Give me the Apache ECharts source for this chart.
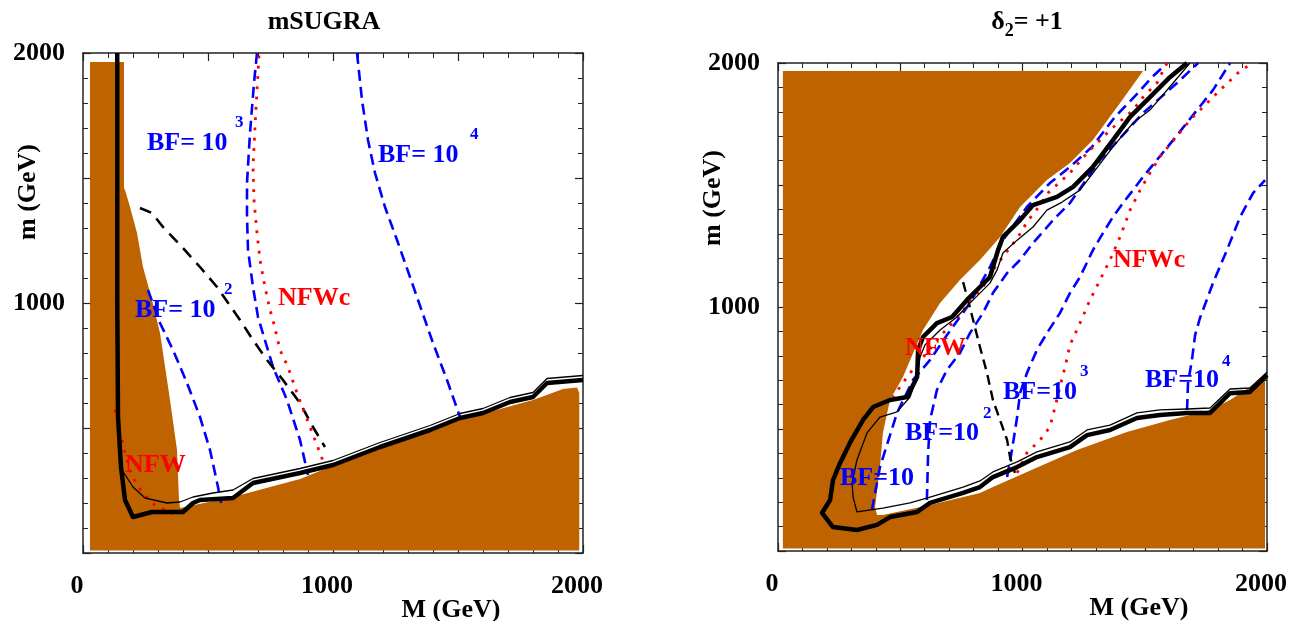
<!DOCTYPE html>
<html><head><meta charset="utf-8">
<script src="https://cdn.jsdelivr.net/npm/echarts@6/dist/echarts.min.js"></script>
<style>html,body{margin:0;padding:0;background:#fff}#c{width:1296px;height:621px}</style>
</head><body><div id="c"></div>
<script>
// ---------- tick labels ----------
const xTickLabels = [0, 1000, 2000];
const yTickLabels = [1000, 2000];

// ---------- left panel (mSUGRA) ----------
const L_brown = [[28,10],[28,1964],[164,1964],[164,1460],[168,1452],[188,1384],[216,1280],[240,1144],[276,1012],[308,880],[348,612],[376,412],[384,212],[388,180],[600,224],[868,296],[1136,404],[1500,530],[1800,612],[1920,656],[1976,662],[1985,640],[1985,10]];
const L_thick = [[137,2000],[137,1012],[140,544],[152,344],[168,212],[200,144],[276,164],[400,164],[440,200],[468,212],[600,220],[680,280],[868,320],[1000,352],[1188,424],[1388,492],[1508,540],[1600,560],[1708,604],[1800,624],[1856,680],[2000,692]];
const L_thin = [[138,1000],[140,544],[156,332],[200,264],[248,220],[336,200],[388,204],[440,224],[520,240],[600,252],[680,298],[868,338],[1000,370],[1188,442],[1388,510],[1508,558],[1600,578],[1708,622],[1800,642],[1856,698],[2000,710]];
const L_nfw = [[128,572],[136,540],[148,472],[160,440],[168,400],[188,332],[216,272],[240,240],[288,192],[320,176],[356,160],[388,144]];
const L_nfwc = [[704,1990],[696,1852],[688,1704],[680,1544],[684,1412],[696,1280],[708,1172],[728,1064],[748,972],[760,932],[788,812],[820,744],[856,640],[908,504],[948,400],[976,324]];
const L_black = [[228,1380],[276,1360],[320,1304],[396,1224],[468,1144],[536,1064],[600,972],[628,932],[680,852],[736,772],[800,692],[868,600],[920,504],[968,424]];
const L_bf2 = [[260,1052],[308,920],[360,812],[416,680],[468,544],[508,412],[540,264],[552,200]];
const L_bf3 = [[696,2000],[684,1880],[668,1680],[656,1480],[656,1344],[660,1212],[680,1064],[700,944],[760,744],[816,612],[868,452],[900,312]];
const L_bf4 = [[1096,2000],[1116,1812],[1140,1652],[1168,1520],[1208,1384],[1256,1252],[1308,1104],[1340,1012],[1400,840],[1456,692],[1508,544]];

// ---------- right panel (delta2 = +1) ----------
const R_brown = [[20,10],[20,1967],[1493,1967],[1399,1836],[1288,1684],[1194,1590],[1100,1520],[990,1410],[908,1287],[826,1193],[744,1111],[663,1016],[593,906],[511,713],[458,619],[429,484],[417,344],[397,180],[405,148],[429,148],[622,189],[826,238],[879,262],[1018,324],[1223,414],[1427,488],[1603,537],[1767,578],[1849,619],[1930,672],[1992,701],[1992,10]];
const R_thick = [[1673,2000],[1603,1942],[1509,1848],[1440,1779],[1370,1684],[1288,1574],[1207,1492],[1141,1451],[1043,1418],[990,1356],[920,1287],[900,1233],[867,1123],[826,1082],[773,1029],[712,959],[650,934],[593,877],[573,824],[569,713],[528,631],[458,619],[389,590],[348,537],[294,443],[254,361],[225,291],[213,209],[180,156],[225,98],[323,86],[405,107],[458,139],[569,160],[622,197],[757,238],[826,262],[879,303],[978,344],[1059,385],[1194,426],[1264,475],[1358,496],[1468,545],[1562,557],[1673,566],[1767,566],[1849,647],[1930,652],[2000,721]];
const R_thin = [[1685,2000],[1616,1918],[1521,1807],[1452,1754],[1370,1656],[1235,1479],[1162,1430],[1100,1397],[1043,1328],[978,1274],[920,1221],[896,1152],[867,1098],[826,1057],[785,1016],[732,959],[663,906],[601,844],[581,795],[569,713],[540,631],[487,570],[417,549],[364,484],[323,373],[303,279],[307,221],[323,160],[429,176],[540,197],[622,221],[757,262],[826,287],[879,324],[978,365],[1059,406],[1194,447],[1264,496],[1358,516],[1468,566],[1562,578],[1673,582],[1767,586],[1849,664],[1930,668],[2000,733]];
const R_nfw = [[1591,2000],[1550,1918],[1493,1860],[1452,1807],[1358,1725],[1264,1631],[1194,1549],[1153,1512],[1104,1467],[1063,1406],[1018,1348],[982,1287],[941,1233],[888,1164],[838,1082],[793,1029],[724,947],[675,893],[601,803],[540,729],[499,672],[470,631]];
const R_nfwc = [[978,320],[1018,402],[1072,455],[1112,508],[1133,590],[1153,672],[1174,754],[1194,844],[1235,934],[1276,1029],[1317,1111],[1358,1193],[1399,1287],[1440,1397],[1481,1479],[1521,1549],[1562,1615],[1685,1766],[1800,1881],[1881,1959],[1939,2000]];
const R_black = [[757,1102],[777,1029],[798,947],[826,836],[855,729],[879,619],[908,537],[937,455],[949,385],[969,320]];
const R_bf1 = [[384,168],[417,344],[487,566],[552,701],[622,783],[691,885],[785,1016],[867,1164],[920,1274],[1018,1410],[1112,1508],[1194,1574],[1284,1656],[1378,1779],[1472,1877],[1530,1942],[1583,1992]];
const R_bf2 = [[609,209],[614,402],[622,537],[650,660],[691,742],[744,811],[785,893],[838,975],[879,1057],[937,1139],[990,1193],[1043,1262],[1125,1356],[1194,1426],[1317,1602],[1493,1795],[1632,1918],[1718,2000]];
const R_bf3 = [[937,303],[957,414],[978,549],[990,647],[1018,729],[1059,824],[1100,893],[1153,975],[1194,1057],[1235,1123],[1288,1233],[1329,1303],[1370,1369],[1411,1426],[1452,1479],[1493,1533],[1616,1684],[1779,1889],[1849,2000]];
const R_bf4 = [[1673,578],[1677,688],[1693,783],[1706,885],[1726,955],[1779,1098],[1836,1233],[1890,1369],[1943,1467],[1992,1520]];

// ---------- styles ----------
const FONT = '"Liberation Serif", "Times New Roman", serif';
const BROWN = '#bf6200';
const BLUE = '#0000ff';
const RED = '#ff0000';

function axesFor(gi) {
  const common = {
    type: 'value', gridIndex: gi, min: 0, max: 2000, interval: 500,
    axisLine: { show: true, onZero: false, lineStyle: { color: '#222', width: 1.5 } },
    axisTick: { show: true, inside: true, length: 8, lineStyle: { color: '#222', width: 1.2 } },
    minorTick: { show: true, splitNumber: 5, length: 5, lineStyle: { color: '#222', width: 1 } },
    splitLine: { show: false }, minorSplitLine: { show: false }
  };
  const lab = (list, margin, extra) => Object.assign({
    show: true, color: '#000', fontFamily: FONT, fontWeight: 'bold', fontSize: 26, margin: margin,
    formatter: v => list.includes(v) ? String(v) : ''
  }, extra || {});
  return {
    x: [
      Object.assign({}, common, { position: 'bottom', axisLabel: lab(xTickLabels, 20, { padding: [0, 12, 0, 0] }) }),
      Object.assign({}, common, { position: 'top', axisLabel: { show: false } })
    ],
    y: [
      Object.assign({}, common, { position: 'left', axisLabel: lab(yTickLabels, 18) }),
      Object.assign({}, common, { position: 'right', axisLabel: { show: false } })
    ]
  };
}
const a0 = axesFor(0), a1 = axesFor(1);

function poly(data, gi, color) {
  return {
    type: 'custom', xAxisIndex: gi * 2, yAxisIndex: gi * 2, data: data, encode: { x: 0, y: 1 },
    silent: true, z: 1, clip: true,
    renderItem: function (params, api) {
      if (params.dataIndex !== 0) return null;
      return { type: 'polygon', shape: { points: data.map(p => api.coord(p)) }, style: { fill: color } };
    }
  };
}
function line(data, gi, color, width, type, z) {
  return {
    type: 'line', xAxisIndex: gi * 2, yAxisIndex: gi * 2, data: data, showSymbol: false, symbol: 'none',
    silent: true, z: z || 3, clip: true,
    lineStyle: { color: color, width: width, type: type || 'solid', cap: 'butt', join: 'round' }
  };
}
const DASH_B = [11, 6], DASH_K = [12, 8], DOT = [2.8, 7.5];

const series = [
  poly(L_brown, 0, BROWN),
  line(L_bf2, 0, BLUE, 2.6, DASH_B), line(L_bf3, 0, BLUE, 2.6, DASH_B), line(L_bf4, 0, BLUE, 2.6, DASH_B),
  line(L_black, 0, '#000', 2.6, DASH_K),
  line(L_nfwc, 0, RED, 2.8, DOT), line(L_nfw, 0, RED, 2.8, DOT),
  line(L_thin, 0, '#000', 1.3, 'solid', 4), line(L_thick, 0, '#000', 4.5, 'solid', 5),

  poly(R_brown, 1, BROWN),
  line(R_bf1, 1, BLUE, 2.6, DASH_B), line(R_bf2, 1, BLUE, 2.6, DASH_B), line(R_bf3, 1, BLUE, 2.6, DASH_B), line(R_bf4, 1, BLUE, 2.6, DASH_B),
  line(R_black, 1, '#000', 2.4, [10, 6]),
  line(R_nfwc, 1, RED, 2.8, DOT), line(R_nfw, 1, RED, 2.8, DOT),
  line(R_thin, 1, '#000', 1.3, 'solid', 4), line(R_thick, 1, '#000', 4.5, 'solid', 5)
];

function txt(x, y, text, color, size, align, rot) {
  return {
    type: 'text', x: x, y: y, rotation: rot || 0, z: 100, silent: true,
    style: { text: text, fill: color, font: 'bold ' + size + 'px ' + FONT, align: align || 'left', verticalAlign: 'middle' }
  };
}
const graphics = [
  txt(324, 22, 'mSUGRA', '#000', 26, 'center'),
  {
    type: 'text', x: 1027, y: 22, z: 100, silent: true,
    style: {
      text: '{a|δ}{s|2}{a|= +1}', align: 'center', verticalAlign: 'middle',
      rich: {
        a: { fontFamily: FONT, fontWeight: 'bold', fontSize: 26, fill: '#000', color: '#000' },
        s: { fontFamily: FONT, fontWeight: 'bold', fontSize: 18, fill: '#000', color: '#000', verticalAlign: 'bottom', padding: [18, 0, 0, 0] }
      }
    }
  },
  txt(28, 192, 'm (GeV)', '#000', 26, 'center', Math.PI / 2),
  txt(713, 198, 'm (GeV)', '#000', 26, 'center', Math.PI / 2),
  txt(451, 610, 'M (GeV)', '#000', 26, 'center'),
  txt(1139, 608, 'M (GeV)', '#000', 26, 'center'),
  // left labels
  txt(147, 143, 'BF= 10', BLUE, 26), txt(235, 123, '3', BLUE, 17),
  txt(378, 155, 'BF= 10', BLUE, 26), txt(470, 135, '4', BLUE, 17),
  txt(135, 310, 'BF= 10', BLUE, 26), txt(224, 290, '2', BLUE, 17),
  txt(278, 298, 'NFWc', RED, 26),
  txt(125, 465, 'NFW', RED, 26),
  // right labels
  txt(1113, 260, 'NFWc', RED, 26),
  txt(905, 348, 'NFW', RED, 26),
  txt(1003, 392, 'BF=10', BLUE, 26), txt(1080, 372, '3', BLUE, 17),
  txt(905, 433, 'BF=10', BLUE, 26), txt(983, 414, '2', BLUE, 17),
  txt(840, 478, 'BF=10', BLUE, 26),
  txt(1145, 380, 'BF=10', BLUE, 26), txt(1222, 362, '4', BLUE, 17)
];

const chart = echarts.init(document.getElementById('c'), null, { renderer: 'canvas' });
chart.setOption({
  animation: false,
  backgroundColor: '#fff',
  grid: [
    { left: 83, top: 53, width: 500, height: 500, containLabel: false },
    { left: 778, top: 63, width: 489, height: 488, containLabel: false }
  ],
  xAxis: [a0.x[0], a0.x[1], a1.x[0], a1.x[1]],
  yAxis: [a0.y[0], a0.y[1], a1.y[0], a1.y[1]],
  series: series,
  graphic: graphics
});
</script>
</body></html>
